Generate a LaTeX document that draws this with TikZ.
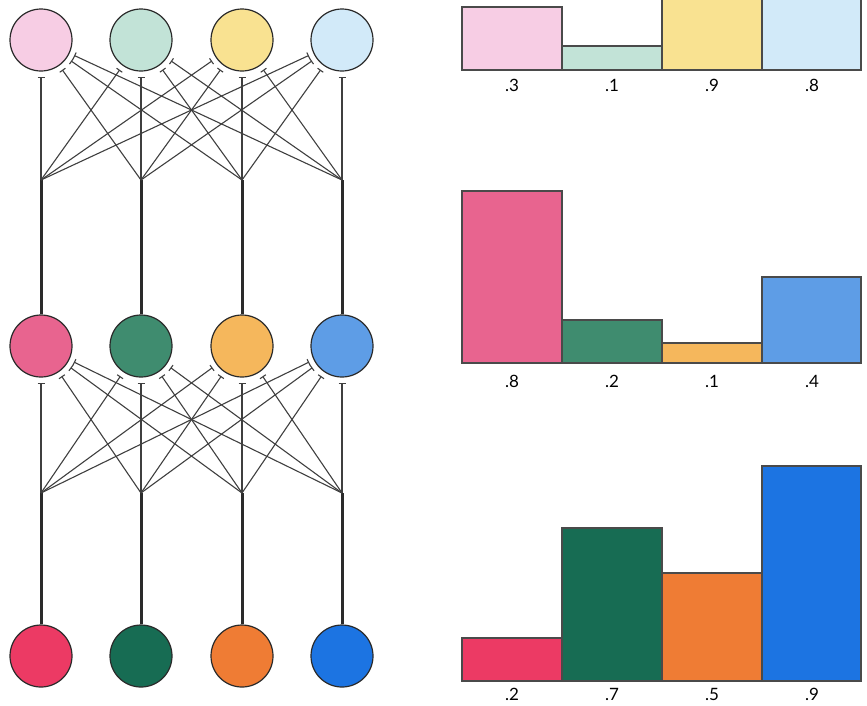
\documentclass[tikz,border=0pt]{standalone}
\usepackage{fontspec}
\setmainfont{Lato}
\usetikzlibrary{arrows.meta}
\definecolor{tA}{HTML}{F7CDE4}
\definecolor{tB}{HTML}{C2E3D7}
\definecolor{tC}{HTML}{F9E291}
\definecolor{tD}{HTML}{D2EAF9}
\definecolor{mA}{HTML}{E8648F}
\definecolor{mB}{HTML}{3F8C6F}
\definecolor{mC}{HTML}{F5B75C}
\definecolor{mD}{HTML}{5E9DE6}
\definecolor{bA}{HTML}{EC3A64}
\definecolor{bB}{HTML}{176C53}
\definecolor{bC}{HTML}{EF7C34}
\definecolor{bD}{HTML}{1C74E2}
\definecolor{ink}{HTML}{2A2A2A}
\tikzset{
  neuron/.style={circle, draw=ink, line width=1.2pt, minimum size=62pt, inner sep=0pt},
  link/.style={draw=ink!90, line width=1.1pt, -{Bar[width=7pt,line width=1.1pt]}, shorten >=5pt},
  trunk/.style={draw=ink, line width=3pt},
  barbox/.style={draw=ink!85, line width=1.2pt},
  lab/.style={font=\fontsize{17}{20}\selectfont, inner sep=0pt}
}
\begin{document}
\begin{tikzpicture}[x=1pt,y=-1pt]
\useasboundingbox (0,0) rectangle (867,705);
\clip (0,0) rectangle (867,705);
% neurons
\foreach \n/\x/\ct/\cm/\cb in {1/41/tA/mA/bA,2/141/tB/mB/bB,3/242/tC/mC/bC,4/342/tD/mD/bD}{
  \node[neuron, fill=\ct] (t\n) at (\x,40) {};
  \node[neuron, fill=\cm] (m\n) at (\x,346) {};
  \node[neuron, fill=\cb] (b\n) at (\x,656) {};
  \coordinate (j\n) at (\x,180);
  \coordinate (k\n) at (\x,493);
}
% trunks
\foreach \n in {1,...,4}{
  \draw[trunk] (m\n) -- (j\n);
  \draw[trunk] (b\n) -- (k\n);
}
% links
\foreach \i in {1,...,4}{
  \foreach \k in {1,...,4}{
    \draw[link] (j\i) -- (t\k);
    \draw[link] (k\i) -- (m\k);
  }
}
% top chart
\draw[barbox, fill=tA] (462,70) rectangle (562,7);
\draw[barbox, fill=tB] (562,70) rectangle (662,46);
\draw[barbox, fill=tC] (662,70) rectangle (762,-130);
\draw[barbox, fill=tD] (762,70) rectangle (861,-110);
\node[lab] (l1) at (512,85) {.3};
\node[lab] (l2) at (612,85) {.1};
\node[lab] (l3) at (712,85) {.9};
\node[lab] (l4) at (812,85) {.8};
% middle chart
\draw[barbox, fill=mA] (462,363) rectangle (562,191);
\draw[barbox, fill=mB] (562,363) rectangle (662,320);
\draw[barbox, fill=mC] (662,363) rectangle (762,343);
\draw[barbox, fill=mD] (762,363) rectangle (861,277);
\node[lab] (l5) at (512,381) {.8};
\node[lab] (l6) at (612,381) {.2};
\node[lab] (l7) at (712,381) {.1};
\node[lab] (l8) at (812,381) {.4};
% bottom chart
\draw[barbox, fill=bA] (462,681) rectangle (562,638);
\draw[barbox, fill=bB] (562,681) rectangle (662,528);
\draw[barbox, fill=bC] (662,681) rectangle (762,573);
\draw[barbox, fill=bD] (762,681) rectangle (861,466);
\node[lab] (l9) at (512,694) {.2};
\node[lab] (l10) at (612,694) {.7};
\node[lab] (l11) at (712,694) {.5};
\node[lab] (l12) at (812,694) {.9};
\end{tikzpicture}
\end{document}
